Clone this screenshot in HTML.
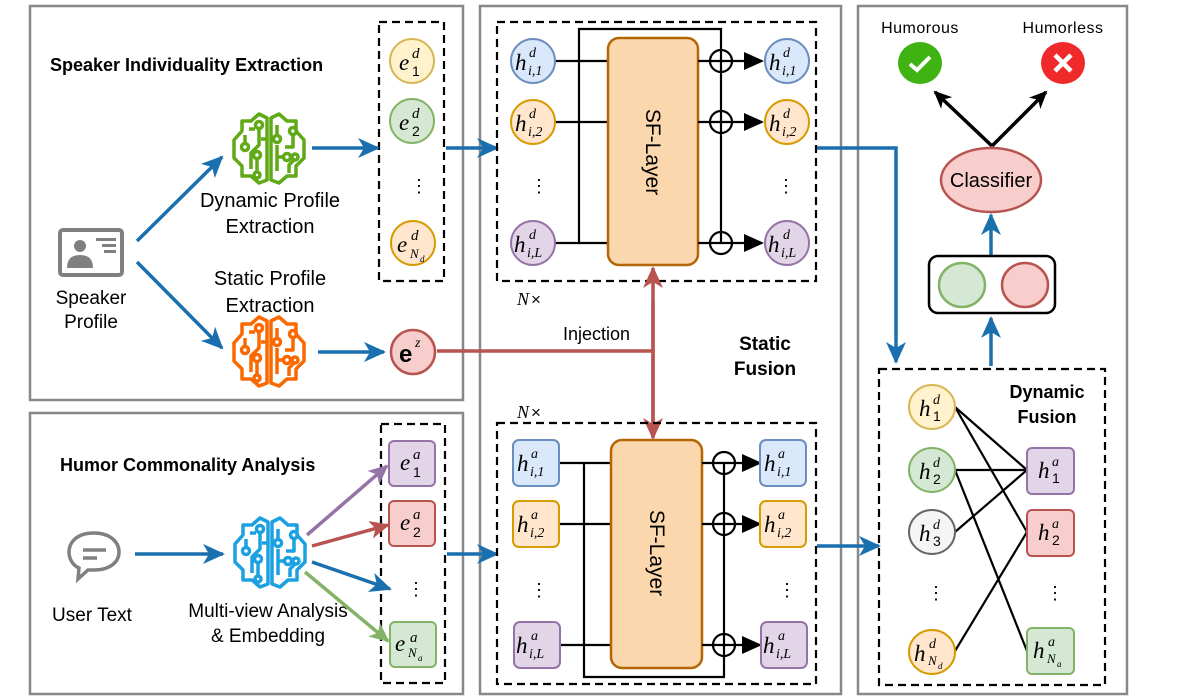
<!DOCTYPE html>
<html><head><meta charset="utf-8"><style>
html,body{margin:0;padding:0;background:#fff}
svg{display:block}
text{font-family:"Liberation Sans",sans-serif}
.m{font-family:"Liberation Serif",serif;font-style:italic}
</style></head><body>
<svg width="1180" height="700" viewBox="0 0 1180 700" xmlns="http://www.w3.org/2000/svg">
<defs>
<marker id="abig" markerWidth="22" markerHeight="20" refX="20" refY="10" orient="auto" markerUnits="userSpaceOnUse"><path d="M0,0 L22,10 L0,20 L6,10 z" fill="#1a6faf"/></marker>
<marker id="ak" markerWidth="18" markerHeight="16" refX="16" refY="8" orient="auto" markerUnits="userSpaceOnUse"><path d="M0,0 L18,8 L0,16 L5,8 z" fill="#000"/></marker>
<marker id="ar" markerWidth="22" markerHeight="20" refX="20" refY="10" orient="auto" markerUnits="userSpaceOnUse"><path d="M0,0 L22,10 L0,20 L6,10 z" fill="#b85450"/></marker>
<marker id="ap" markerWidth="20" markerHeight="18" refX="18" refY="9" orient="auto" markerUnits="userSpaceOnUse"><path d="M0,0 L20,9 L0,18 L5,9 z" fill="#9673a6"/></marker>
<marker id="arr" markerWidth="20" markerHeight="18" refX="18" refY="9" orient="auto" markerUnits="userSpaceOnUse"><path d="M0,0 L20,9 L0,18 L5,9 z" fill="#b85450"/></marker>
<marker id="ag" markerWidth="20" markerHeight="18" refX="18" refY="9" orient="auto" markerUnits="userSpaceOnUse"><path d="M0,0 L20,9 L0,18 L5,9 z" fill="#82b366"/></marker>
<g id="brain" fill="none" stroke-width="3.5" stroke-linejoin="round">
<path d="M-2,-31 L-10,-35 L-18,-28 L-27,-28 L-27,-18 L-35,-9 L-35,9 L-27,17 L-27,27 L-18,27 L-10,34 L-2,31 Z"/>
<path d="M2,-31 L10,-35 L18,-28 L27,-28 L27,-18 L35,-9 L35,9 L27,17 L27,27 L18,27 L10,34 L2,31 Z"/>
<path d="M-24,-6 L-24,-14 M-18,20 L-18,4 L-10,-4 L-10,-20 M-2,-10 L-8,-10 M-12,22 L-12,10 M-20,-20 L-14,-20"/>
<path d="M8,-14 L8,-24 M24,-14 L24,-2 L16,-2 M8,-4 L8,22 M8,8 L14,8 M26,10 L20,16 L20,24"/>
<circle cx="-24" cy="-2" r="3.5"/><circle cx="-10" cy="-24" r="3.5"/><circle cx="-12" cy="6" r="3.5"/><circle cx="-12" cy="26" r="3"/>
<circle cx="8" cy="-10" r="3.5"/><circle cx="24" cy="-18" r="3.5"/><circle cx="18" cy="8" r="3.5"/><circle cx="26" cy="8" r="3"/>
</g>
</defs>

<rect x="30" y="6" width="433" height="394" fill="none" stroke="#888" stroke-width="2.5"/>
<rect x="30" y="413" width="433" height="281" fill="none" stroke="#888" stroke-width="2.5"/>
<rect x="480" y="6" width="361" height="688" fill="none" stroke="#888" stroke-width="2.5"/>
<rect x="858" y="6" width="269" height="688" fill="none" stroke="#888" stroke-width="2.5"/>

<text x="50" y="71" font-size="18" font-weight="bold">Speaker Individuality Extraction</text>
<rect x="379" y="22" width="65" height="259" fill="none" stroke="#000" stroke-width="2.2" stroke-dasharray="8,5"/>
<circle cx="412" cy="61" r="22" fill="#fff2cc" stroke="#d6b656" stroke-width="2"/>
<circle cx="412" cy="121" r="22" fill="#d5e8d4" stroke="#82b366" stroke-width="2"/>
<circle cx="413" cy="243" r="22" fill="#ffe6cc" stroke="#d79b00" stroke-width="2"/>
<text class="m" x="399" y="70" font-size="23">e</text><text class="m" x="412" y="58" font-size="15">d</text><text x="412" y="76" font-size="14" font-family="Liberation Serif">1</text>
<text class="m" x="399" y="130" font-size="23">e</text><text class="m" x="412" y="118" font-size="15">d</text><text x="412" y="136" font-size="14" font-family="Liberation Serif">2</text>
<text class="m" x="397" y="252" font-size="23">e</text><text class="m" x="411" y="240" font-size="15">d</text><text class="m" x="410" y="258" font-size="13">N</text><text class="m" x="420" y="262" font-size="9">d</text>
<text x="410" y="192" font-size="18">⋮</text>

<rect x="60" y="230" width="62" height="45" rx="3" fill="none" stroke="#808080" stroke-width="4"/>
<circle cx="80" cy="246" r="6" fill="#808080"/>
<path d="M67,268 Q67,255 80,255 Q93,255 93,268 Z" fill="#808080"/>
<rect x="96" y="238" width="20" height="3" fill="#808080"/><rect x="102" y="244" width="14" height="3" fill="#808080"/><rect x="104" y="250" width="12" height="3" fill="#808080"/>
<text x="91" y="304" font-size="19" text-anchor="middle">Speaker</text>
<text x="91" y="328" font-size="19" text-anchor="middle">Profile</text>
<line x1="137" y1="241" x2="222" y2="157" stroke="#1a6faf" stroke-width="3.5" marker-end="url(#abig)"/>
<line x1="137" y1="262" x2="222" y2="348" stroke="#1a6faf" stroke-width="3.5" marker-end="url(#abig)"/>
<use href="#brain" x="269" y="149" stroke="#60a917"/>
<use href="#brain" x="269" y="352" stroke="#fa6800"/>
<text x="270" y="207" font-size="20" text-anchor="middle">Dynamic Profile</text>
<text x="270" y="233" font-size="20" text-anchor="middle">Extraction</text>
<text x="270" y="285" font-size="20" text-anchor="middle">Static Profile</text>
<text x="270" y="312" font-size="20" text-anchor="middle">Extraction</text>
<line x1="312" y1="148" x2="378" y2="148" stroke="#1a6faf" stroke-width="3.5" marker-end="url(#abig)"/>
<line x1="318" y1="352" x2="384" y2="352" stroke="#1a6faf" stroke-width="3.5" marker-end="url(#abig)"/>
<circle cx="413" cy="352" r="22" fill="#f8cecc" stroke="#b85450" stroke-width="2.5"/>
<text x="399" y="362" font-size="24" font-weight="bold" font-family="Liberation Serif">e</text><text class="m" x="415" y="347" font-size="14">z</text>
<line x1="446" y1="148" x2="497" y2="148" stroke="#1a6faf" stroke-width="3.5" marker-end="url(#abig)"/>

<text x="60" y="471" font-size="18" font-weight="bold">Humor Commonality Analysis</text>
<rect x="381" y="424" width="64" height="259" fill="none" stroke="#000" stroke-width="2.2" stroke-dasharray="8,5"/>
<rect x="389" y="441" width="46" height="45" rx="5" fill="#e1d5e7" stroke="#9673a6" stroke-width="2"/>
<rect x="389" y="501" width="46" height="45" rx="5" fill="#f8cecc" stroke="#b85450" stroke-width="2"/>
<rect x="390" y="622" width="46" height="45" rx="5" fill="#d5e8d4" stroke="#82b366" stroke-width="2"/>
<text class="m" x="400" y="470" font-size="23">e</text><text class="m" x="413" y="459" font-size="15">a</text><text x="413" y="477" font-size="14" font-family="Liberation Serif">1</text>
<text class="m" x="400" y="530" font-size="23">e</text><text class="m" x="413" y="519" font-size="15">a</text><text x="413" y="537" font-size="14" font-family="Liberation Serif">2</text>
<text class="m" x="395" y="651" font-size="23">e</text><text class="m" x="410" y="642" font-size="15">a</text><text class="m" x="408" y="657" font-size="13">N</text><text class="m" x="418" y="661" font-size="9">a</text>
<text x="407" y="595" font-size="18">⋮</text>
<path d="M94,533 C76,533 69,543 69,552 C69,560 74,566 79,568 L78,579 L88,570 L94,570 C110,570 119,562 119,552 C119,542 110,533 94,533 Z" fill="none" stroke="#808080" stroke-width="3.5"/>
<line x1="83" y1="550" x2="106" y2="550" stroke="#808080" stroke-width="3.5"/>
<line x1="83" y1="558" x2="97" y2="558" stroke="#808080" stroke-width="3.5"/>
<text x="92" y="621" font-size="19" text-anchor="middle">User Text</text>
<line x1="135" y1="554" x2="223" y2="554" stroke="#1a6faf" stroke-width="3.5" marker-end="url(#abig)"/>
<use href="#brain" x="270" y="553" stroke="#1ba1e2"/>
<text x="268" y="617" font-size="19" text-anchor="middle">Multi-view Analysis</text>
<text x="268" y="642" font-size="19" text-anchor="middle">&amp; Embedding</text>
<line x1="307" y1="535" x2="387" y2="466" stroke="#9673a6" stroke-width="3.5" marker-end="url(#ap)"/>
<line x1="312" y1="546" x2="388" y2="525" stroke="#b85450" stroke-width="3.5" marker-end="url(#arr)"/>
<line x1="312" y1="562" x2="390" y2="589" stroke="#1a6faf" stroke-width="3.5" marker-end="url(#abig)"/>
<line x1="305" y1="572" x2="388" y2="641" stroke="#82b366" stroke-width="3.5" marker-end="url(#ag)"/>
<line x1="447" y1="554" x2="497" y2="554" stroke="#1a6faf" stroke-width="3.5" marker-end="url(#abig)"/>

<rect x="497" y="22" width="319" height="259" fill="none" stroke="#000" stroke-width="2.2" stroke-dasharray="8,5"/>
<path d="M555,61 H608 M555,122 H608 M555,243 H608 M579,243 V29 H721 V243" fill="none" stroke="#000" stroke-width="2.2"/>
<rect x="608" y="38" width="90" height="227" rx="11" fill="#fad7ac" stroke="#b46504" stroke-width="2.5"/>
<text x="0" y="0" font-size="21" transform="translate(646,152) rotate(90)" text-anchor="middle">SF-Layer</text>
<g fill="none" stroke="#000" stroke-width="2.2">
<path d="M698,61 H756 M698,122 H756 M698,243 H756"/>
<circle cx="721" cy="61" r="11"/><circle cx="721" cy="122" r="11"/><circle cx="721" cy="243" r="11"/>
</g>
<path d="M744,52 L764,61 L744,70 Z M744,113 L764,122 L744,131 Z M744,234 L764,243 L744,252 Z" fill="#000"/>
<g stroke-width="2">
<circle cx="533" cy="61" r="22" fill="#dae8fc" stroke="#6c8ebf"/>
<circle cx="533" cy="122" r="22" fill="#ffe6cc" stroke="#d79b00"/>
<circle cx="533" cy="243" r="22" fill="#e1d5e7" stroke="#9673a6"/>
<circle cx="787" cy="61" r="22" fill="#dae8fc" stroke="#6c8ebf"/>
<circle cx="787" cy="122" r="22" fill="#ffe6cc" stroke="#d79b00"/>
<circle cx="787" cy="243" r="22" fill="#e1d5e7" stroke="#9673a6"/>
</g>
<g>
<text x="515" y="70" font-size="23" class="m">h</text><text x="529" y="57" font-size="14" class="m">d</text><text x="528" y="75" font-size="14" class="m">i,1</text>
<text x="515" y="131" font-size="23" class="m">h</text><text x="529" y="118" font-size="14" class="m">d</text><text x="528" y="136" font-size="14" class="m">i,2</text>
<text x="514" y="252" font-size="23" class="m">h</text><text x="529" y="239" font-size="14" class="m">d</text><text x="527" y="257" font-size="14" class="m">i,L</text>
<text x="769" y="70" font-size="23" class="m">h</text><text x="783" y="57" font-size="14" class="m">d</text><text x="782" y="75" font-size="14" class="m">i,1</text>
<text x="769" y="131" font-size="23" class="m">h</text><text x="783" y="118" font-size="14" class="m">d</text><text x="782" y="136" font-size="14" class="m">i,2</text>
<text x="768" y="252" font-size="23" class="m">h</text><text x="783" y="239" font-size="14" class="m">d</text><text x="781" y="257" font-size="14" class="m">i,L</text>
</g>
<text x="530" y="192" font-size="18">⋮</text><text x="777" y="192" font-size="18">⋮</text>
<text class="m" x="517" y="305" font-size="18">N</text><text x="531" y="305" font-size="17" font-family="Liberation Serif">×</text>

<path d="M437,351 H653" fill="none" stroke="#b85450" stroke-width="3.5"/>
<line x1="653" y1="437" x2="653" y2="268" stroke="#b85450" stroke-width="3.5" marker-end="url(#ar)"/>
<line x1="653" y1="300" x2="653" y2="438" stroke="#b85450" stroke-width="3.5" marker-end="url(#ar)"/>
<text x="563" y="340" font-size="18">Injection</text>
<text x="765" y="350" font-size="19" font-weight="bold" text-anchor="middle">Static</text>
<text x="765" y="375" font-size="19" font-weight="bold" text-anchor="middle">Fusion</text>

<text class="m" x="517" y="418" font-size="18">N</text><text x="531" y="418" font-size="17" font-family="Liberation Serif">×</text>
<rect x="497" y="423" width="319" height="261" fill="none" stroke="#000" stroke-width="2.2" stroke-dasharray="8,5"/>
<path d="M559,463 H611 M559,524 H611 M559,645 H611 M584,463 V677 H724 V463" fill="none" stroke="#000" stroke-width="2.2"/>
<rect x="611" y="440" width="91" height="228" rx="11" fill="#fad7ac" stroke="#b46504" stroke-width="2.5"/>
<text x="0" y="0" font-size="21" transform="translate(650,553) rotate(90)" text-anchor="middle">SF-Layer</text>
<g fill="none" stroke="#000" stroke-width="2.2">
<path d="M702,463 H760 M702,524 H760 M702,645 H760"/>
<circle cx="724" cy="463" r="11"/><circle cx="724" cy="524" r="11"/><circle cx="724" cy="645" r="11"/>
</g>
<path d="M742,454 L762,463 L742,472 Z M742,515 L762,524 L742,533 Z M742,636 L762,645 L742,654 Z" fill="#000"/>
<g stroke-width="2">
<rect x="513" y="440" width="46" height="46" rx="6" fill="#dae8fc" stroke="#6c8ebf"/>
<rect x="513" y="501" width="46" height="46" rx="6" fill="#ffe6cc" stroke="#d79b00"/>
<rect x="514" y="622" width="46" height="46" rx="6" fill="#e1d5e7" stroke="#9673a6"/>
<rect x="760" y="440" width="46" height="46" rx="6" fill="#dae8fc" stroke="#6c8ebf"/>
<rect x="760" y="501" width="46" height="46" rx="6" fill="#ffe6cc" stroke="#d79b00"/>
<rect x="761" y="622" width="46" height="46" rx="6" fill="#e1d5e7" stroke="#9673a6"/>
</g>
<g>
<text x="517" y="471" font-size="23" class="m">h</text><text x="531" y="458" font-size="14" class="m">a</text><text x="530" y="476" font-size="14" class="m">i,1</text>
<text x="517" y="532" font-size="23" class="m">h</text><text x="531" y="519" font-size="14" class="m">a</text><text x="530" y="537" font-size="14" class="m">i,2</text>
<text x="516" y="653" font-size="23" class="m">h</text><text x="531" y="640" font-size="14" class="m">a</text><text x="529" y="658" font-size="14" class="m">i,L</text>
<text x="764" y="471" font-size="23" class="m">h</text><text x="778" y="458" font-size="14" class="m">a</text><text x="777" y="476" font-size="14" class="m">i,1</text>
<text x="764" y="532" font-size="23" class="m">h</text><text x="778" y="519" font-size="14" class="m">a</text><text x="777" y="537" font-size="14" class="m">i,2</text>
<text x="763" y="653" font-size="23" class="m">h</text><text x="778" y="640" font-size="14" class="m">a</text><text x="776" y="658" font-size="14" class="m">i,L</text>
</g>
<text x="530" y="596" font-size="18">⋮</text><text x="778" y="596" font-size="18">⋮</text>

<path d="M817,148 H896 V362" fill="none" stroke="#1a6faf" stroke-width="3.5" marker-end="url(#abig)"/>
<line x1="817" y1="546" x2="879" y2="546" stroke="#1a6faf" stroke-width="3.5" marker-end="url(#abig)"/>

<text x="920" y="33" font-size="16" text-anchor="middle" letter-spacing="0.5">Humorous</text>
<text x="1063" y="33" font-size="16" text-anchor="middle" letter-spacing="0.5">Humorless</text>
<ellipse cx="920" cy="63" rx="22" ry="21" fill="#3fb312"/>
<path d="M910,64 L917,70 L930,57" fill="none" stroke="#fff" stroke-width="4"/>
<ellipse cx="1063" cy="63" rx="22" ry="21" fill="#f02a2a"/>
<path d="M1055,55 L1071,71 M1071,55 L1055,71" stroke="#fff" stroke-width="4.5"/>
<line x1="992" y1="146" x2="935" y2="92" stroke="#000" stroke-width="3.5" marker-end="url(#ak)"/>
<line x1="992" y1="146" x2="1046" y2="92" stroke="#000" stroke-width="3.5" marker-end="url(#ak)"/>
<ellipse cx="991" cy="180" rx="50" ry="32" fill="#f8cecc" stroke="#b85450" stroke-width="2.5"/>
<text x="991" y="187" font-size="20" text-anchor="middle">Classifier</text>
<line x1="991" y1="256" x2="991" y2="215" stroke="#1a6faf" stroke-width="3.5" marker-end="url(#abig)"/>
<rect x="929" y="256" width="126" height="57" rx="9" fill="#fff" stroke="#000" stroke-width="2.5"/>
<ellipse cx="962" cy="285" rx="23" ry="22" fill="#d5e8d4" stroke="#82b366" stroke-width="2.5"/>
<ellipse cx="1025" cy="285" rx="23" ry="22" fill="#f8cecc" stroke="#b85450" stroke-width="2.5"/>
<line x1="991" y1="366" x2="991" y2="318" stroke="#1a6faf" stroke-width="3.5" marker-end="url(#abig)"/>

<rect x="879" y="369" width="226" height="316" fill="none" stroke="#000" stroke-width="2.2" stroke-dasharray="8,5"/>
<text x="1047" y="398" font-size="18" font-weight="bold" text-anchor="middle">Dynamic</text>
<text x="1047" y="423" font-size="18" font-weight="bold" text-anchor="middle">Fusion</text>
<g stroke="#000" stroke-width="2.2">
<line x1="955" y1="407" x2="1027" y2="470"/>
<line x1="955" y1="407" x2="1027" y2="532"/>
<line x1="955" y1="470" x2="1027" y2="470"/>
<line x1="955" y1="470" x2="1027" y2="651"/>
<line x1="955" y1="532" x2="1027" y2="470"/>
<line x1="955" y1="651" x2="1027" y2="532"/>
</g>
<g stroke-width="2">
<ellipse cx="932" cy="407" rx="23" ry="22" fill="#fff2cc" stroke="#d6b656"/>
<ellipse cx="932" cy="470" rx="23" ry="22" fill="#d5e8d4" stroke="#82b366"/>
<ellipse cx="932" cy="532" rx="23" ry="22" fill="#f5f5f5" stroke="#666"/>
<ellipse cx="932" cy="652" rx="23" ry="22" fill="#ffe6cc" stroke="#d79b00"/>
<rect x="1027" y="448" width="47" height="46" rx="5" fill="#e1d5e7" stroke="#9673a6"/>
<rect x="1027" y="510" width="47" height="46" rx="5" fill="#f8cecc" stroke="#b85450"/>
<rect x="1027" y="628" width="47" height="46" rx="5" fill="#d5e8d4" stroke="#82b366"/>
</g>
<text x="919" y="416" font-size="23" class="m">h</text><text x="933" y="404" font-size="14" class="m">d</text><text x="933" y="421" font-size="14" font-family="Liberation Serif">1</text>
<text x="919" y="479" font-size="23" class="m">h</text><text x="933" y="467" font-size="14" class="m">d</text><text x="933" y="484" font-size="14" font-family="Liberation Serif">2</text>
<text x="919" y="541" font-size="23" class="m">h</text><text x="933" y="529" font-size="14" class="m">d</text><text x="933" y="546" font-size="14" font-family="Liberation Serif">3</text>
<text x="914" y="661" font-size="23" class="m">h</text><text x="929" y="648" font-size="14" class="m">d</text><text x="928" y="665" font-size="13" class="m">N</text><text x="938" y="669" font-size="9" class="m">d</text>
<text x="1038" y="478" font-size="23" class="m">h</text><text x="1052" y="466" font-size="14" class="m">a</text><text x="1052" y="483" font-size="14" font-family="Liberation Serif">1</text>
<text x="1038" y="540" font-size="23" class="m">h</text><text x="1052" y="528" font-size="14" class="m">a</text><text x="1052" y="545" font-size="14" font-family="Liberation Serif">2</text>
<text x="1033" y="658" font-size="23" class="m">h</text><text x="1048" y="646" font-size="14" class="m">a</text><text x="1047" y="663" font-size="13" class="m">N</text><text x="1057" y="667" font-size="9" class="m">a</text>
<text x="927" y="599" font-size="18">⋮</text><text x="1046" y="599" font-size="18">⋮</text>
</svg>
</body></html>
